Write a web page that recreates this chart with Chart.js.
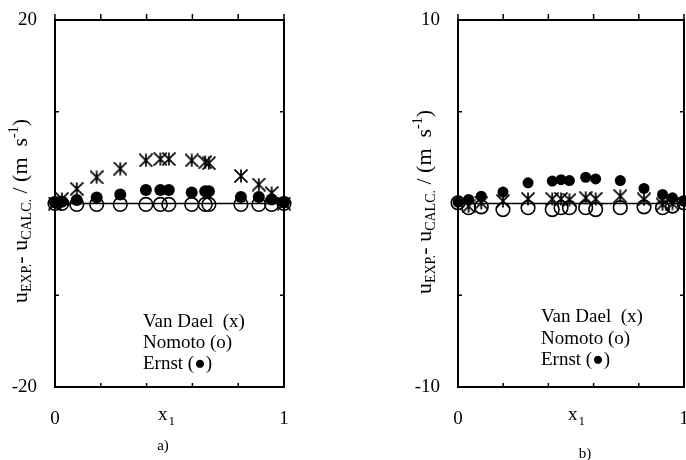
<!DOCTYPE html>
<html>
<head>
<meta charset="utf-8">
<script src="https://cdn.jsdelivr.net/npm/chart.js@4/dist/chart.umd.min.js"></script>
<style>
  html, body { margin: 0; padding: 0; background: #fff; }
  #wrap { position: relative; width: 686px; height: 460px; overflow: hidden; background: #fff; }
  #wrap canvas { position: absolute; top: 0; }
</style>
</head>
<body>
<div id="wrap">
  <canvas id="panelA" width="343" height="460" style="left:0;width:343px;height:460px"></canvas>
  <canvas id="panelB" width="343" height="460" style="left:343px;width:343px;height:460px"></canvas>
</div>
<script>
// Mole fraction x1 of the measured mixtures, panel a)
const compA     = [0, 0.03, 0.095, 0.182, 0.285, 0.397, 0.46, 0.497, 0.597, 0.656, 0.672, 0.812, 0.89, 0.946, 1.0];
// Deviations u_exp - u_calc (m/s), panel a)
const vanDaelA  = [0, 0.5, 1.6, 2.86, 3.8, 4.7, 4.85, 4.85, 4.7, 4.5, 4.4, 3.0, 2.07, 1.14, 0];
const nomotoA   = [0, 0, -0.1, -0.1, -0.1, -0.1, -0.1, -0.1, -0.1, -0.1, -0.1, -0.1, -0.1, -0.1, 0];
const ernstA    = [0.1, 0.2, 0.38, 0.65, 0.98, 1.48, 1.48, 1.48, 1.2, 1.34, 1.34, 0.7, 0.7, 0.43, 0.1];

// Mole fraction x1, panel b)
const compB     = [0, 0.047, 0.103, 0.199, 0.31, 0.417, 0.456, 0.493, 0.565, 0.609, 0.718, 0.823, 0.905, 0.949, 1.0];
// Deviations u_exp - u_calc (m/s), panel b)
const vanDaelB  = [null, -0.15, 0.04, 0.13, 0.25, 0.25, 0.25, 0.2, 0.31, 0.25, 0.4, 0.22, -0.05, 0, null];
const nomotoB   = [0.04, -0.23, -0.18, -0.33, -0.23, -0.33, -0.23, -0.23, -0.23, -0.33, -0.23, -0.18, -0.23, -0.14, 0.04];
const ernstB    = [0.07, 0.22, 0.4, 0.62, 1.13, 1.22, 1.3, 1.25, 1.43, 1.34, 1.25, 0.82, 0.49, 0.31, 0.12];

// Axis ranges and tick spacing
const xRange    = [0, 1];
const xStep     = 0.2;
const yRangeA   = [-20, 20];
const yStepA    = 10;
const yRangeB   = [-10, 10];
const yStepB    = 5;

// Texts
const legendLines = ['Van Dael  (x)', 'Nomoto (o)', 'Ernst (\u25CF)'];
const panelTags   = ['a)', 'b)'];

const SERIF = '"Liberation Serif", "Times New Roman", serif';

// six-armed asterisk marker
function asteriskMark(w, h, lw) {
  const c = document.createElement('canvas');
  c.width = w; c.height = h;
  const g = c.getContext('2d');
  g.strokeStyle = '#000';
  g.lineWidth = lw;
  g.beginPath();
  g.moveTo(w / 2, 0.5); g.lineTo(w / 2, h - 0.5);
  g.moveTo(0.5, 0.5); g.lineTo(w - 0.5, h - 0.5);
  g.moveTo(w - 0.5, 0.5); g.lineTo(0.5, h - 0.5);
  g.stroke();
  return c;
}
const STAR = asteriskMark(14, 14, 1.7);

function pts(xs, ys) {
  return xs.map((x, i) => ({ x: x, y: ys[i] })).filter(p => p.y !== null);
}

function decoPlugin(p) {
  return {
    id: 'panelDeco',
    afterDraw(chart) {
      const ctx = chart.ctx, a = chart.chartArea;
      const xs = chart.scales.x, ys = chart.scales.y;
      ctx.save();
      // frame
      ctx.strokeStyle = '#000';
      ctx.lineWidth = 2;
      ctx.strokeRect(a.left, a.top, a.right - a.left, a.bottom - a.top);
      // tick marks
      ctx.lineWidth = 1.5;
      ctx.beginPath();
      xs.ticks.forEach(t => {
        const px = xs.getPixelForValue(t.value);
        ctx.moveTo(px, a.top - 6); ctx.lineTo(px, a.top);
        if (t.value > xs.min + 1e-6 && t.value < xs.max - 1e-6) {
          ctx.moveTo(px, a.bottom); ctx.lineTo(px, a.bottom - 4);
        }
      });
      ys.ticks.forEach(t => {
        if (t.value > ys.min && t.value < ys.max) {
          const py = ys.getPixelForValue(t.value);
          ctx.moveTo(a.left, py); ctx.lineTo(a.left + 4, py);
          ctx.moveTo(a.right, py); ctx.lineTo(a.right - 4, py);
        }
      });
      ctx.stroke();

      ctx.fillStyle = '#000';
      ctx.textAlign = 'left';
      ctx.textBaseline = 'alphabetic';

      // legend text
      ctx.font = '19px ' + SERIF;
      legendLines.forEach((s, i) => ctx.fillText(s, p.legendX, p.legendY[i]));

      // x-axis title x1
      ctx.font = '19px ' + SERIF;
      ctx.fillText('x', p.xTitleX, p.xTitleY);
      const wx = ctx.measureText('x').width;
      ctx.font = '13px ' + SERIF;
      ctx.fillText('1', p.xTitleX + wx + 1, p.xTitleY + 5);

      // panel tag
      ctx.font = '15px ' + SERIF;
      ctx.textAlign = 'center';
      ctx.fillText(p.tag, p.tagX, p.tagY);

      // rotated y-axis title
      const parts = [
        ['u', 22, 0], ['EXP.', 14, 4], ['- ', 22, 0], ['u', 22, 0], ['CALC.', 14, 4],
        [' / (m  s', 22, 0], ['-1', 14, -9], [')', 22, 0]
      ];
      ctx.textAlign = 'left';
      let total = 0;
      parts.forEach(q => { ctx.font = q[1] + 'px ' + SERIF; total += ctx.measureText(q[0]).width; });
      ctx.translate(p.yTitleX, p.yTitleY);
      ctx.rotate(-Math.PI / 2);
      let cx = -total / 2;
      parts.forEach(q => {
        ctx.font = q[1] + 'px ' + SERIF;
        ctx.fillText(q[0], cx, q[2]);
        cx += ctx.measureText(q[0]).width;
      });
      ctx.restore();
    }
  };
}

function makePanel(id, comp, vd, no, er, yRange, yStep, geo) {
  const tickFont = { family: SERIF, size: 19 };
  new Chart(document.getElementById(id), {
    type: 'scatter',
    data: {
      datasets: [
        { label: 'Ernst', data: pts(comp, er), pointStyle: 'circle', pointRadius: geo.dot,
          backgroundColor: '#000', borderColor: '#000', borderWidth: 0, clip: false },
        { label: 'Nomoto', data: pts(comp, no), pointStyle: 'circle', pointRadius: 6.8,
          backgroundColor: 'rgba(0,0,0,0)', borderColor: '#000', borderWidth: 1.6, clip: false },
        { label: 'Van Dael', data: pts(comp, vd), pointStyle: STAR, pointRadius: 7,
          backgroundColor: '#000', borderColor: '#000', clip: false },
        { label: 'zero', data: [{ x: xRange[0], y: 0 }, { x: xRange[1], y: 0 }], showLine: true,
          borderColor: '#000', borderWidth: 1.3, pointRadius: 0, fill: false }
      ]
    },
    options: {
      responsive: false,
      animation: false,
      events: [],
      layout: { autoPadding: false, padding: { left: 0, top: 20, right: geo.padRight, bottom: 0 } },
      plugins: { legend: { display: false }, tooltip: { enabled: false } },
      scales: {
        x: {
          type: 'linear', min: xRange[0], max: xRange[1],
          grid: { display: false, drawTicks: false },
          border: { display: false },
          ticks: {
            stepSize: xStep, autoSkip: false, maxRotation: 0, color: '#000', font: tickFont, padding: 21,
            callback: v => (Math.abs(v - xRange[0]) < 1e-9 || Math.abs(v - xRange[1]) < 1e-9) ? String(Math.round(v)) : ''
          },
          afterFit: s => { s.height = 73; s.paddingLeft = 0; s.paddingRight = 0; }
        },
        y: {
          type: 'linear', min: yRange[0], max: yRange[1],
          grid: { display: false, drawTicks: false },
          border: { display: false },
          ticks: {
            stepSize: yStep, autoSkip: false, color: '#000', font: tickFont, padding: 18,
            callback: v => (v === yRange[0] || v === yRange[1]) ? String(v) : ''
          },
          afterFit: s => { s.width = geo.yWidth; s.paddingTop = 0; s.paddingBottom = 0; }
        }
      }
    },
    plugins: [decoPlugin(geo)]
  });
}

makePanel('panelA', compA, vanDaelA, nomotoA, ernstA, yRangeA, yStepA, {
  yWidth: 55, padRight: 59, dot: 6,
  legendX: 143, legendY: [327, 348, 369],
  xTitleX: 158, xTitleY: 420,
  tag: panelTags[0], tagX: 163, tagY: 450,
  yTitleX: 27, yTitleY: 211
});
makePanel('panelB', compB, vanDaelB, nomotoB, ernstB, yRangeB, yStepB, {
  yWidth: 115, padRight: 2, dot: 5.5,
  legendX: 198, legendY: [322, 344, 365],
  xTitleX: 225, xTitleY: 420,
  tag: panelTags[1], tagX: 242, tagY: 458,
  yTitleX: 88, yTitleY: 202
});
</script>
</body>
</html>
